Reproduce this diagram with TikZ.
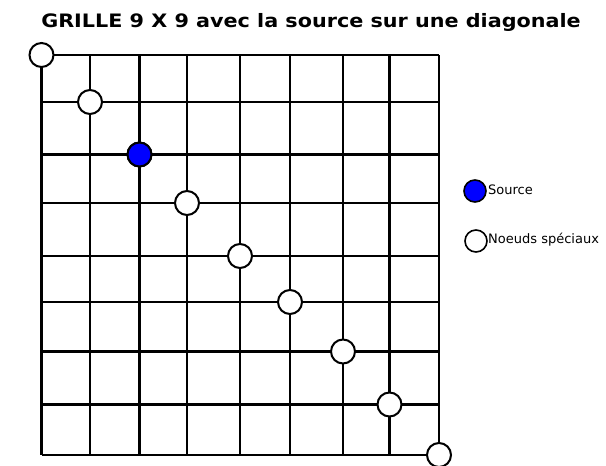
\documentclass[tikz,border=0pt]{standalone}
\usepackage{fontspec}
\setmainfont{DejaVu Sans}
\newfontfamily\titrefont[FakeStretch=1.12]{DejaVu Sans}
\begin{document}
\begin{tikzpicture}[x=1pt, y=-1pt]
        \tikzstyle{noeud} = [draw, circle, line width=2pt, minimum size=24pt, inner sep=0pt, fill=white]
        \tikzstyle{legende} = [draw, circle, line width=1.6pt, minimum size=22pt, inner sep=0pt]
        \tikzstyle{txt} = [anchor=base west, inner sep=0pt, font=\fontsize{13}{15}\selectfont]
        \useasboundingbox (0, 0) rectangle (606, 466);
        \node[anchor=base, inner sep=0pt, font=\titrefont\fontsize{18.5}{21}\selectfont\bfseries] (titre) at (311, 27.5) {GRILLE 9 X 9 avec la source sur une diagonale};
        % grille
        \foreach \i/\x/\y in {0/41.5/55, 1/90/102, 2/139.5/154.5, 3/187/203, 4/240/256, 5/290/302, 6/343/351.5, 7/389.5/404.5, 8/439/455} {
          \coordinate (h\i) at (41.5, \y);
          \coordinate (v\i) at (\x, 55);
          \draw[line width=2.2pt] (h\i) -- (439, \y);
          \draw[line width=2.2pt] (v\i) -- (\x, 455);
          \node[noeud] (d\i) at (\x, \y) {};
        }
        \node[noeud, fill=blue] at (d2) {};
        % legende
        \node[legende, fill=blue] (ls) at (475, 191) {};
        \node[legende, fill=white] (ln) at (476, 241) {};
        \node[txt] (ts) at (488, 194) {Source};
        \node[txt] (tn) at (488, 243) {Noeuds spéciaux};
      \end{tikzpicture}
\end{document}
